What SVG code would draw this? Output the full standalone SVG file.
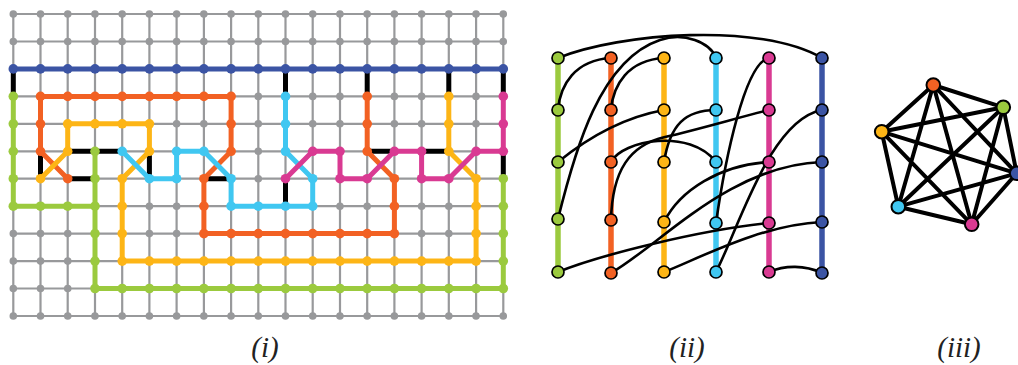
<svg xmlns="http://www.w3.org/2000/svg" width="1018" height="365" viewBox="0 0 1018 365">
<style>
.gl{fill:none;stroke:#98999b;stroke-width:2.2}
.gd{fill:none;stroke:#98999b;stroke-width:7.6;stroke-linecap:round;stroke-dasharray:0 27.22}
.pth{fill:none;stroke-width:5;stroke-linecap:round;stroke-linejoin:round}
.blk{fill:none;stroke:#000;stroke-width:5;stroke-linecap:butt}
.bl{stroke:#3b54a4}.gr{stroke:#9bca3e}.or{stroke:#f26123}.ye{stroke:#fdb516}.cy{stroke:#40c7f1}.ma{stroke:#d93a92}
.fbl{fill:#3b54a4}.fgr{fill:#9bca3e}.for{fill:#f26123}.fye{fill:#fdb516}.fcy{fill:#40c7f1}.fma{fill:#d93a92}
.col{fill:none;stroke-width:5.5}
.crv{fill:none;stroke:#000;stroke-width:2.6;stroke-linecap:round}
.n2 circle{stroke:#000;stroke-width:1.7}
.k6e{fill:none;stroke:#000;stroke-width:4;stroke-linecap:round}
.n3 circle{stroke:#000;stroke-width:2}
.lab{font-family:"Liberation Serif","DejaVu Serif",serif;font-style:italic;font-size:29px;fill:#222;text-anchor:middle}
</style>

<!-- Panel (i): grid -->
<g id="grid">
<path class="gl" d="M13.3,14H503.3M13.3,41.5H503.3M13.3,68.9H503.3M13.3,96.4H503.3M13.3,123.8H503.3M13.3,151.3H503.3M13.3,178.7H503.3M13.3,206.2H503.3M13.3,233.6H503.3M13.3,261.1H503.3M13.3,288.5H503.3M13.3,316H503.3
M13.3,14V316M40.5,14V316M67.7,14V316M95,14V316M122.2,14V316M149.4,14V316M176.6,14V316M203.9,14V316M231.1,14V316M258.3,14V316M285.5,14V316M312.7,14V316M340,14V316M367.2,14V316M394.4,14V316M421.6,14V316M448.8,14V316M476.1,14V316M503.3,14V316"/>
<path class="gd" d="M13.3,14H503.4"/>
<path class="gd" d="M13.3,41.5H503.4"/>
<path class="gd" d="M13.3,68.9H503.4"/>
<path class="gd" d="M13.3,96.4H503.4"/>
<path class="gd" d="M13.3,123.8H503.4"/>
<path class="gd" d="M13.3,151.3H503.4"/>
<path class="gd" d="M13.3,178.7H503.4"/>
<path class="gd" d="M13.3,206.2H503.4"/>
<path class="gd" d="M13.3,233.6H503.4"/>
<path class="gd" d="M13.3,261.1H503.4"/>
<path class="gd" d="M13.3,288.5H503.4"/>
<path class="gd" d="M13.3,316H503.4"/>
</g>

<g id="grid-couplers">
<path class="blk" d="M13.3,68.9V96.4M285.5,68.9V96.4M367.2,68.9V96.4M448.8,68.9V96.4M503.3,68.9V96.4M40.5,151.3V178.7M67.7,151.3H122.2M67.7,178.7H95M149.4,151.3V178.7M203.9,178.7H231.1M285.5,178.7V206.2M367.2,151.3H394.4M421.6,151.3H448.8M503.3,151.3V178.7"/>
</g>

<g id="chain-blue">
<path class="pth bl" d="M13.3,68.9H503.3"/>
<g class="fbl">
<circle cx="13.3" cy="68.9" r="4.8"/><circle cx="40.5" cy="68.9" r="4.8"/><circle cx="67.7" cy="68.9" r="4.8"/><circle cx="95" cy="68.9" r="4.8"/><circle cx="122.2" cy="68.9" r="4.8"/><circle cx="149.4" cy="68.9" r="4.8"/><circle cx="176.6" cy="68.9" r="4.8"/><circle cx="203.9" cy="68.9" r="4.8"/><circle cx="231.1" cy="68.9" r="4.8"/><circle cx="258.3" cy="68.9" r="4.8"/><circle cx="285.5" cy="68.9" r="4.8"/><circle cx="312.7" cy="68.9" r="4.8"/><circle cx="340" cy="68.9" r="4.8"/><circle cx="367.2" cy="68.9" r="4.8"/><circle cx="394.4" cy="68.9" r="4.8"/><circle cx="421.6" cy="68.9" r="4.8"/><circle cx="448.8" cy="68.9" r="4.8"/><circle cx="476.1" cy="68.9" r="4.8"/><circle cx="503.3" cy="68.9" r="4.8"/>
</g>
</g>

<g id="chain-green">
<path class="pth gr" d="M13.3,96.4V206.2H95M95,151.3V288.5H503.3V178.7"/>
<g class="fgr">
<circle cx="13.3" cy="96.4" r="4.8"/><circle cx="13.3" cy="123.8" r="4.8"/><circle cx="13.3" cy="151.3" r="4.8"/><circle cx="13.3" cy="178.7" r="4.8"/><circle cx="13.3" cy="206.2" r="4.8"/>
<circle cx="40.5" cy="206.2" r="4.8"/><circle cx="67.7" cy="206.2" r="4.8"/>
<circle cx="95" cy="151.3" r="4.8"/><circle cx="95" cy="178.7" r="4.8"/><circle cx="95" cy="206.2" r="4.8"/><circle cx="95" cy="233.6" r="4.8"/><circle cx="95" cy="261.1" r="4.8"/><circle cx="95" cy="288.5" r="4.8"/>
<circle cx="122.2" cy="288.5" r="4.8"/><circle cx="149.4" cy="288.5" r="4.8"/><circle cx="176.6" cy="288.5" r="4.8"/><circle cx="203.9" cy="288.5" r="4.8"/><circle cx="231.1" cy="288.5" r="4.8"/><circle cx="258.3" cy="288.5" r="4.8"/><circle cx="285.5" cy="288.5" r="4.8"/><circle cx="312.7" cy="288.5" r="4.8"/><circle cx="340" cy="288.5" r="4.8"/><circle cx="367.2" cy="288.5" r="4.8"/><circle cx="394.4" cy="288.5" r="4.8"/><circle cx="421.6" cy="288.5" r="4.8"/><circle cx="448.8" cy="288.5" r="4.8"/><circle cx="476.1" cy="288.5" r="4.8"/><circle cx="503.3" cy="288.5" r="4.8"/>
<circle cx="503.3" cy="178.7" r="4.8"/><circle cx="503.3" cy="206.2" r="4.8"/><circle cx="503.3" cy="233.6" r="4.8"/><circle cx="503.3" cy="261.1" r="4.8"/>
</g>
</g>

<g id="chain-orange">
<path class="pth or" d="M67.7,178.7L40.5,151.3V96.4H231.1V151.3L203.9,178.7V233.6H394.4V178.7L367.2,151.3V96.4"/>
<g class="for">
<circle cx="40.5" cy="96.4" r="4.8"/><circle cx="67.7" cy="96.4" r="4.8"/><circle cx="95" cy="96.4" r="4.8"/><circle cx="122.2" cy="96.4" r="4.8"/><circle cx="149.4" cy="96.4" r="4.8"/><circle cx="176.6" cy="96.4" r="4.8"/><circle cx="203.9" cy="96.4" r="4.8"/><circle cx="231.1" cy="96.4" r="4.8"/>
<circle cx="40.5" cy="123.8" r="4.8"/><circle cx="40.5" cy="151.3" r="4.8"/><circle cx="231.1" cy="123.8" r="4.8"/><circle cx="231.1" cy="151.3" r="4.8"/>
<circle cx="67.7" cy="178.7" r="4.8"/>
<circle cx="203.9" cy="178.7" r="4.8"/><circle cx="203.9" cy="206.2" r="4.8"/><circle cx="203.9" cy="233.6" r="4.8"/>
<circle cx="231.1" cy="233.6" r="4.8"/><circle cx="258.3" cy="233.6" r="4.8"/><circle cx="285.5" cy="233.6" r="4.8"/><circle cx="312.7" cy="233.6" r="4.8"/><circle cx="340" cy="233.6" r="4.8"/><circle cx="367.2" cy="233.6" r="4.8"/><circle cx="394.4" cy="233.6" r="4.8"/>
<circle cx="394.4" cy="206.2" r="4.8"/><circle cx="394.4" cy="178.7" r="4.8"/>
<circle cx="367.2" cy="151.3" r="4.8"/><circle cx="367.2" cy="123.8" r="4.8"/><circle cx="367.2" cy="96.4" r="4.8"/>
</g>
</g>

<g id="chain-yellow">
<path class="pth ye" d="M40.5,178.7L67.7,151.3V123.8H149.4V151.3L122.2,178.7V261.1H476.1V178.7L448.8,151.3V96.4"/>
<g class="fye">
<circle cx="67.7" cy="123.8" r="4.8"/><circle cx="95" cy="123.8" r="4.8"/><circle cx="122.2" cy="123.8" r="4.8"/><circle cx="149.4" cy="123.8" r="4.8"/>
<circle cx="67.7" cy="151.3" r="4.8"/><circle cx="149.4" cy="151.3" r="4.8"/><circle cx="40.5" cy="178.7" r="4.8"/>
<circle cx="122.2" cy="178.7" r="4.8"/><circle cx="122.2" cy="206.2" r="4.8"/><circle cx="122.2" cy="233.6" r="4.8"/><circle cx="122.2" cy="261.1" r="4.8"/>
<circle cx="149.4" cy="261.1" r="4.8"/><circle cx="176.6" cy="261.1" r="4.8"/><circle cx="203.9" cy="261.1" r="4.8"/><circle cx="231.1" cy="261.1" r="4.8"/><circle cx="258.3" cy="261.1" r="4.8"/><circle cx="285.5" cy="261.1" r="4.8"/><circle cx="312.7" cy="261.1" r="4.8"/><circle cx="340" cy="261.1" r="4.8"/><circle cx="367.2" cy="261.1" r="4.8"/><circle cx="394.4" cy="261.1" r="4.8"/><circle cx="421.6" cy="261.1" r="4.8"/><circle cx="448.8" cy="261.1" r="4.8"/><circle cx="476.1" cy="261.1" r="4.8"/>
<circle cx="476.1" cy="233.6" r="4.8"/><circle cx="476.1" cy="206.2" r="4.8"/><circle cx="476.1" cy="178.7" r="4.8"/>
<circle cx="448.8" cy="151.3" r="4.8"/><circle cx="448.8" cy="123.8" r="4.8"/><circle cx="448.8" cy="96.4" r="4.8"/>
</g>
</g>

<g id="chain-cyan">
<path class="pth cy" d="M285.5,96.4V151.3L312.7,178.7V206.2H231.1V178.7L203.9,151.3H176.6V178.7H149.4L122.2,151.3"/>
<g class="fcy">
<circle cx="285.5" cy="96.4" r="4.8"/><circle cx="285.5" cy="123.8" r="4.8"/><circle cx="285.5" cy="151.3" r="4.8"/>
<circle cx="312.7" cy="178.7" r="4.8"/><circle cx="312.7" cy="206.2" r="4.8"/><circle cx="285.5" cy="206.2" r="4.8"/><circle cx="258.3" cy="206.2" r="4.8"/><circle cx="231.1" cy="206.2" r="4.8"/>
<circle cx="231.1" cy="178.7" r="4.8"/><circle cx="203.9" cy="151.3" r="4.8"/><circle cx="176.6" cy="151.3" r="4.8"/><circle cx="176.6" cy="178.7" r="4.8"/><circle cx="149.4" cy="178.7" r="4.8"/><circle cx="122.2" cy="151.3" r="4.8"/>
</g>
</g>

<g id="chain-magenta">
<path class="pth ma" d="M503.3,96.4V151.3H476.1L448.8,178.7H421.6V151.3H394.4L367.2,178.7H340V151.3H312.7L285.5,178.7"/>
<g class="fma">
<circle cx="503.3" cy="96.4" r="4.8"/><circle cx="503.3" cy="123.8" r="4.8"/><circle cx="503.3" cy="151.3" r="4.8"/><circle cx="476.1" cy="151.3" r="4.8"/>
<circle cx="448.8" cy="178.7" r="4.8"/><circle cx="421.6" cy="178.7" r="4.8"/><circle cx="421.6" cy="151.3" r="4.8"/><circle cx="394.4" cy="151.3" r="4.8"/>
<circle cx="367.2" cy="178.7" r="4.8"/><circle cx="340" cy="178.7" r="4.8"/><circle cx="340" cy="151.3" r="4.8"/><circle cx="312.7" cy="151.3" r="4.8"/><circle cx="285.5" cy="178.7" r="4.8"/>
</g>
</g>

<!-- Panel (ii) -->
<g id="ii-columns">
<path class="col gr" d="M558,58V272"/>
<path class="col or" d="M611,58V273"/>
<path class="col ye" d="M664,58V272"/>
<path class="col cy" d="M716,58V272"/>
<path class="col ma" d="M769,58V272"/>
<path class="col bl" d="M822,58V273"/>
</g>

<g id="ii-connectors">
<path class="crv" d="M558,58C620,33 760,22 822,58"/>
<path class="crv" d="M611,58C575,60 560,85 558,110"/>
<path class="crv" d="M664,58C628,60 613,85 611,110"/>
<path class="crv" d="M558,219C575,150 600,60 660,40C684,32 710,42 716,58"/>
<path class="crv" d="M611,162C622,140 690,128 716,162"/>
<path class="crv" d="M611,221C612,170 630,145 665,137C700,129 740,117 769,110"/>
<path class="crv" d="M664,162C670,125 685,110 716,110"/>
<path class="crv" d="M558,162C585,140 620,118 664,110"/>
<path class="crv" d="M558,272C600,255 700,230 769,223"/>
<path class="crv" d="M611,273C660,245 730,165 822,162"/>
<path class="crv" d="M664,222C680,190 720,165 769,162"/>
<path class="crv" d="M664,272C700,258 760,225 822,222"/>
<path class="crv" d="M716,272C740,225 770,120 822,110"/>
<path class="crv" d="M769,58C745,62 725,160 716,223"/>
<path class="crv" d="M769,272C785,265 805,265 822,273"/>
</g>

<g id="ii-green" class="n2 fgr"><circle cx="558" cy="58" r="6"/><circle cx="558" cy="110" r="6"/><circle cx="558" cy="162" r="6"/><circle cx="558" cy="219" r="6"/><circle cx="558" cy="272" r="6"/></g>
<g id="ii-orange" class="n2 for"><circle cx="611" cy="58" r="6"/><circle cx="611" cy="110" r="6"/><circle cx="611" cy="162" r="6"/><circle cx="611" cy="220" r="6"/><circle cx="611" cy="273" r="6"/></g>
<g id="ii-yellow" class="n2 fye"><circle cx="664" cy="58" r="6"/><circle cx="664" cy="110" r="6"/><circle cx="664" cy="162" r="6"/><circle cx="664" cy="222" r="6"/><circle cx="664" cy="272" r="6"/></g>
<g id="ii-cyan" class="n2 fcy"><circle cx="716" cy="58" r="6"/><circle cx="716" cy="110" r="6"/><circle cx="716" cy="162" r="6"/><circle cx="716" cy="223" r="6"/><circle cx="716" cy="272" r="6"/></g>
<g id="ii-magenta" class="n2 fma"><circle cx="769" cy="58" r="6"/><circle cx="769" cy="110" r="6"/><circle cx="769" cy="162" r="6"/><circle cx="769" cy="223" r="6"/><circle cx="769" cy="272" r="6"/></g>
<g id="ii-blue" class="n2 fbl"><circle cx="822" cy="58" r="6"/><circle cx="822" cy="110" r="6"/><circle cx="822" cy="162" r="6"/><circle cx="822" cy="222" r="6"/><circle cx="822" cy="273" r="6"/></g>

<!-- Panel (iii): K6 -->
<g id="k6-edges">
<path class="k6e" d="M933.3,85L1003.3,107.3M933.3,85L881.7,131.7M933.3,85L1016.7,173.3M933.3,85L898.3,206.7M933.3,85L971.7,224.3
M1003.3,107.3L881.7,131.7M1003.3,107.3L1016.7,173.3M1003.3,107.3L898.3,206.7M1003.3,107.3L971.7,224.3
M881.7,131.7L1016.7,173.3M881.7,131.7L898.3,206.7M881.7,131.7L971.7,224.3
M1016.7,173.3L898.3,206.7M1016.7,173.3L971.7,224.3
M898.3,206.7L971.7,224.3"/>
</g>
<g id="k6-orange" class="n3 for"><circle cx="933.3" cy="85" r="6.8"/></g>
<g id="k6-green" class="n3 fgr"><circle cx="1003.3" cy="107.3" r="6.8"/></g>
<g id="k6-yellow" class="n3 fye"><circle cx="881.7" cy="131.7" r="6.8"/></g>
<g id="k6-blue" class="n3 fbl"><circle cx="1016.7" cy="173.3" r="6.8"/></g>
<g id="k6-cyan" class="n3 fcy"><circle cx="898.3" cy="206.7" r="6.8"/></g>
<g id="k6-magenta" class="n3 fma"><circle cx="971.7" cy="224.3" r="6.8"/></g>

<g id="labels">
<text class="lab" x="265" y="357">(i)</text>
<text class="lab" x="687" y="357">(ii)</text>
<text class="lab" x="959" y="357">(iii)</text>
</g>
</svg>
